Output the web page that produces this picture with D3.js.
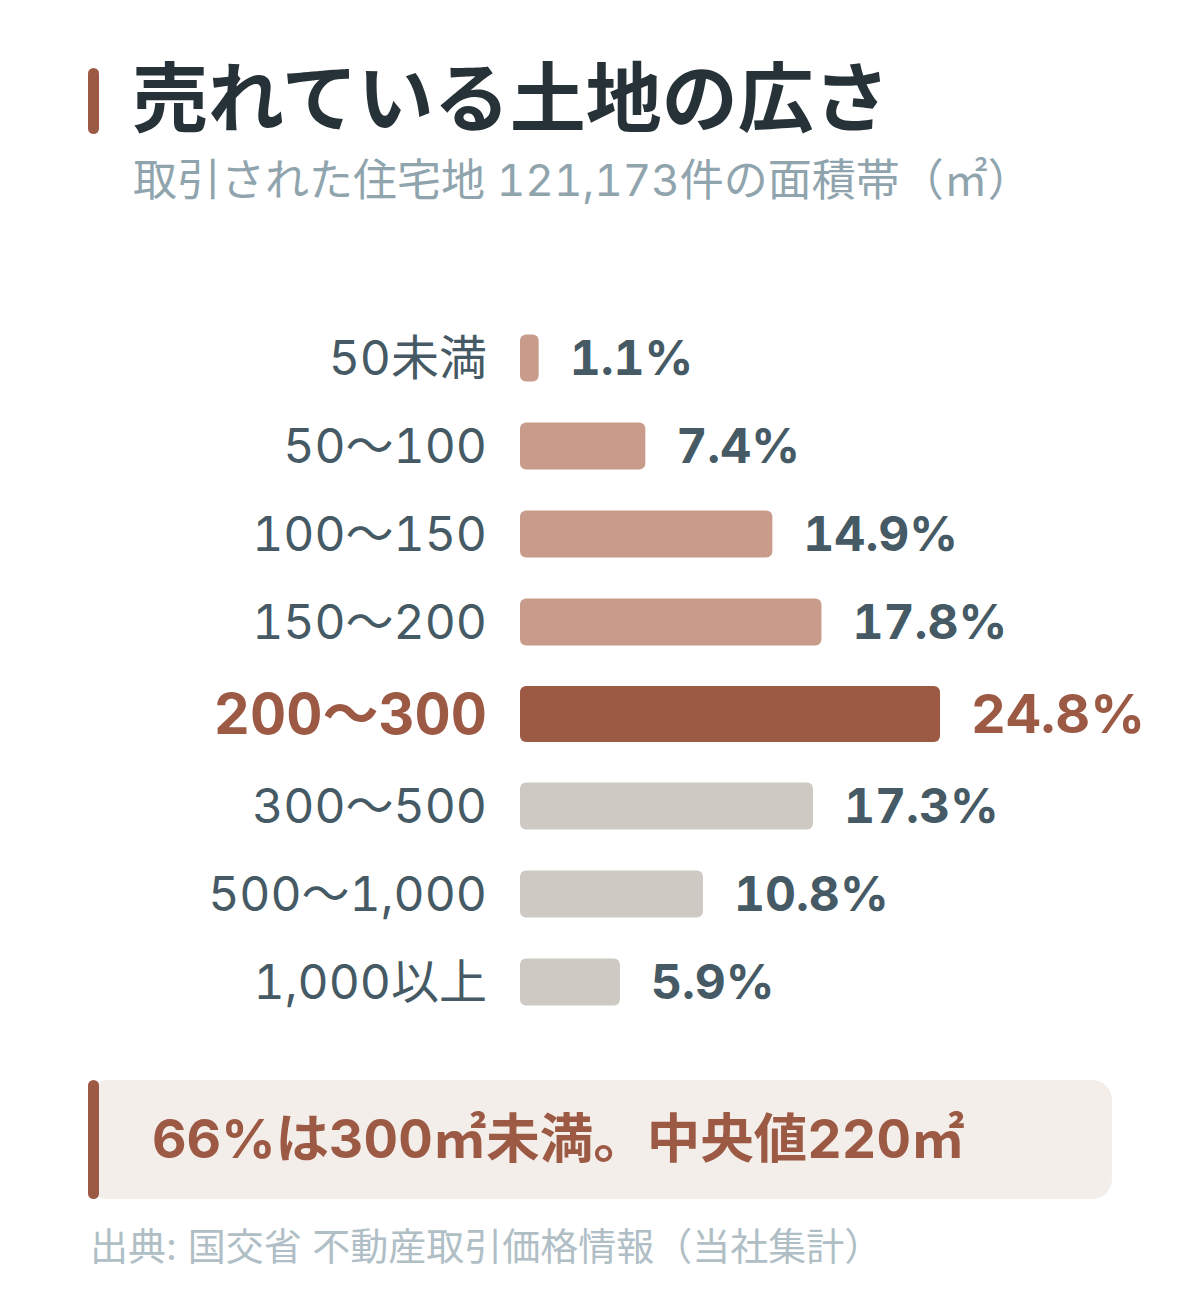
<!DOCTYPE html>
<html lang="ja">
<head>
<meta charset="utf-8">
<script src="https://cdn.jsdelivr.net/npm/d3@7"></script>
<style>
  html, body { margin: 0; padding: 0; background: #ffffff; }
  svg { display: block; font-family: Inter, "Noto Sans CJK JP", sans-serif; }
  .num { font-feature-settings: "tnum" 1; }
</style>
</head>
<body>
<script>
// Data
const CATEGORIES = ['50未満', '50〜100', '100〜150', '150〜200', '200〜300', '300〜500', '500〜1,000', '1,000以上'];
const SHARES     = [1.1, 7.4, 14.9, 17.8, 24.8, 17.3, 10.8, 5.9];
const GROUPS     = ['below', 'below', 'below', 'below', 'peak', 'above', 'above', 'above'];

const TITLE    = '売れている土地の広さ';
const SUBTITLE = '取引された住宅地 121,173件の面積帯（㎡）';
const CALLOUT  = '66%は300㎡未満。中央値220㎡';
const SOURCE   = '出典: 国交省 不動産取引価格情報（当社集計）';

// Figure
const WIDTH  = 1200;
const HEIGHT = 1300;

// Colors
const ACCENT = '#9c5a45';
const INK    = '#263238';
const SLATE  = '#455a64';
const MUTED  = '#90a4ae';
const FAINT  = '#b0bec5';
const FILL   = { below: '#c89b8a', peak: ACCENT, above: '#cec9c3' };

const rows = CATEGORIES.map((c, i) => ({ cat: c, value: SHARES[i], group: GROUPS[i] }));

// Row heights: the highlighted row gets a bit more room
const ROW_H  = 88;
const PEAK_H = 96;
const TOP    = 314;
let acc = TOP;
rows.forEach(d => {
  const h = d.group === 'peak' ? PEAK_H : ROW_H;
  d.cy = acc + h / 2;
  acc += h;
});

// Scales
const x = d3.scaleLinear()
  .domain([0, 24.8])
  .range([520, 940]);

const svg = d3.select('body').append('svg')
  .attr('width', WIDTH)
  .attr('height', HEIGHT);

// Title block
svg.append('rect')
  .attr('x', 88).attr('y', 68)
  .attr('width', 11).attr('height', 66)
  .attr('rx', 5.5)
  .attr('fill', ACCENT);

svg.append('text')
  .attr('x', 132).attr('y', 126)
  .attr('font-size', 76)
  .attr('font-weight', 700)
  .attr('fill', INK)
  .text(TITLE);

svg.append('text')
  .attr('class', 'num')
  .attr('x', 133).attr('y', 196)
  .attr('font-size', 44)
  .attr('fill', MUTED)
  .text(SUBTITLE);

// Bars
const g = svg.append('g');

const row = g.selectAll('g.row')
  .data(rows)
  .join('g')
    .attr('class', 'row')
    .attr('transform', d => `translate(0, ${d.cy})`);

row.append('rect')
  .attr('x', x(0))
  .attr('y', d => d.group === 'peak' ? -28 : -23.5)
  .attr('width', d => x(d.value) - x(0))
  .attr('height', d => d.group === 'peak' ? 56 : 47)
  .attr('rx', 6)
  .attr('fill', d => FILL[d.group]);

row.append('text')
  .attr('class', 'num')
  .attr('x', 487)
  .attr('dy', '0.36em')
  .attr('text-anchor', 'end')
  .attr('font-size', d => d.group === 'peak' ? 56 : 48)
  .attr('font-weight', d => d.group === 'peak' ? 700 : 400)
  .attr('fill', d => d.group === 'peak' ? ACCENT : SLATE)
  .text(d => d.cat);

row.append('text')
  .attr('class', 'num')
  .attr('x', d => x(d.value) + 31)
  .attr('dy', '0.36em')
  .attr('font-size', d => d.group === 'peak' ? 54 : 48)
  .attr('font-weight', 700)
  .attr('fill', d => d.group === 'peak' ? ACCENT : SLATE)
  .text(d => d.value.toFixed(1) + '%');

// Callout
svg.append('rect')
  .attr('x', 88).attr('y', 1080)
  .attr('width', 1024).attr('height', 119)
  .attr('rx', 20)
  .attr('fill', '#f3eeea');
svg.append('rect')
  .attr('x', 88).attr('y', 1080)
  .attr('width', 11).attr('height', 119)
  .attr('rx', 5.5)
  .attr('fill', ACCENT);

svg.append('text')
  .attr('class', 'num')
  .attr('x', 152).attr('y', 1158)
  .attr('font-size', 53.5)
  .attr('font-weight', 700)
  .attr('fill', ACCENT)
  .text(CALLOUT);

// Source
svg.append('text')
  .attr('x', 90).attr('y', 1260)
  .attr('font-size', 38)
  .attr('fill', FAINT)
  .text(SOURCE);
</script>
</body>
</html>
